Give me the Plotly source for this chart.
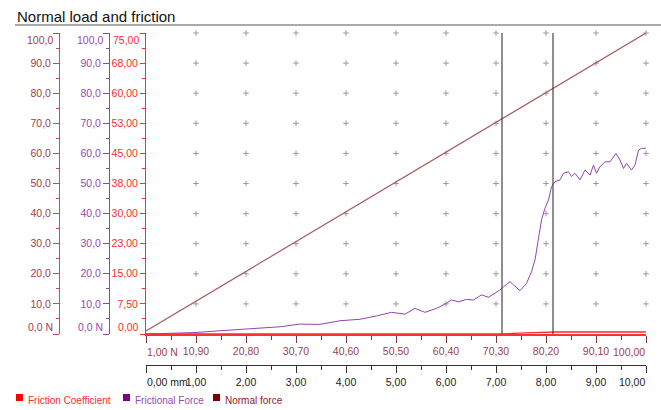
import plotly.graph_objects as go

# ---------------- data ----------------
# distance axis (mm) and normal-force axis tick labels
dist_ticks = [0, 1, 2, 3, 4, 5, 6, 7, 8, 9, 10]
dist_labels = ["0,00 mm", "1,00", "2,00", "3,00", "4,00", "5,00", "6,00", "7,00", "8,00", "9,00", "10,00"]
nf_labels = ["1,00 N", "10,90", "20,80", "30,70", "40,60", "50,50", "60,40", "70,30", "80,20", "90,10", "100,00"]

# left axes tick labels
force_ticks = [0, 10, 20, 30, 40, 50, 60, 70, 80, 90, 100]
force_labels = ["0,0 N", "10,0", "20,0", "30,0", "40,0", "50,0", "60,0", "70,0", "80,0", "90,0", "100,0"]
coef_ticks = [0, 7.5, 15, 22.5, 30, 37.5, 45, 52.5, 60, 67.5, 75]
coef_labels = ["0,00", "7,50", "15,00", "23,00", "30,00", "38,00", "45,00", "53,00", "60,00", "68,00", "75,00"]

# Normal force (N) vs distance (mm)
normal_x = [0.0, 10.0]
normal_y = [1.0, 100.0]

# Frictional force (N) vs distance (mm)
fric_x = [0.0, 0.3, 0.6, 1.0, 1.5, 2.0, 2.4, 2.68, 3.08, 3.48, 3.88, 4.28, 4.61, 4.91, 5.18,
          5.38, 5.58, 5.81, 6.01, 6.11, 6.25, 6.41, 6.55, 6.71, 6.85, 6.98, 7.07, 7.15, 7.28,
          7.35, 7.48, 7.61, 7.71, 7.78, 7.85, 7.91, 7.98, 8.05, 8.11, 8.18, 8.28, 8.35, 8.45,
          8.51, 8.58, 8.68, 8.78, 8.88, 8.95, 9.01, 9.08, 9.18, 9.28, 9.40, 9.48, 9.55, 9.61,
          9.71, 9.78, 9.85, 9.91, 10.0]
fric_y = [0.0, 0.1, 0.3, 0.5, 1.1, 1.7, 2.2, 2.4, 3.3, 3.2, 4.4, 4.9, 6.0, 7.2, 6.6,
          8.5, 7.2, 8.5, 10.2, 11.3, 10.7, 11.5, 11.3, 13.0, 12.2, 13.5, 14.5, 15.7, 17.4,
          16.3, 14.4, 16.8, 20.7, 24.6, 31.2, 37.9, 41.8, 44.5, 48.9, 50.6, 51.2, 53.4, 53.9,
          52.3, 53.4, 51.2, 54.5, 52.8, 56.1, 53.4, 55.6, 57.2, 57.2, 60.0, 57.8, 55.0, 56.7,
          54.5, 56.1, 61.1, 61.7, 61.7]

# Friction coefficient vs distance (mm)
coef_x = [0.0, 7.1, 7.6, 8.2, 10.0]
coef_y = [0.0, 0.0, 0.3, 0.5, 0.5]

# cursor markers (mm)
cursors = [7.12, 8.14]

# ---------------- styling ----------------
W, H = 661, 410
FONT = "Liberation Sans, Arial, sans-serif"
C_NORMAL_LINE = "#a85c62"
C_NORMAL_TXT = "#a0404c"
C_NORMAL_AX = "#d04848"
C_FRIC = "#9444ac"
C_FRIC_TXT = "#9a48b4"
C_COEF = "#ff2a2a"
FS = 10.5

px_l, px_r, px_t, px_b = 146, 646, 33, 334
dom_x = [px_l / W, px_r / W]
dom_y = [1 - px_b / H, 1 - px_t / H]

# end labels are drawn as annotations (aligned inward like the original)
def inner(labels):
    return [""] + list(labels[1:-1]) + [""]

fig = go.Figure()

# grid "+" markers
gx, gy = [], []
for xv in dist_ticks[1:]:
    for yv in force_ticks[1:]:
        gx.append(xv)
        gy.append(yv)
fig.add_trace(go.Scatter(x=gx, y=gy, mode="markers", xaxis="x", yaxis="y",
                         marker=dict(symbol="cross-thin", size=4, line=dict(color="#9a9a9a", width=1)),
                         hoverinfo="skip", showlegend=False, cliponaxis=False))

fig.add_trace(go.Scatter(x=normal_x, y=normal_y, mode="lines", xaxis="x", yaxis="y",
                         line=dict(color=C_NORMAL_LINE, width=1.2), name="Normal force", showlegend=False))
fig.add_trace(go.Scatter(x=fric_x, y=fric_y, mode="lines", xaxis="x2", yaxis="y2",
                         line=dict(color=C_FRIC, width=1.0), name="Frictional Force", showlegend=False))
fig.add_trace(go.Scatter(x=coef_x, y=coef_y, mode="lines", xaxis="x2", yaxis="y3",
                         line=dict(color=C_COEF, width=1.3), name="Friction Coefficient", showlegend=False))

shapes = []
for c in cursors:
    shapes.append(dict(type="line", xref="x", yref="y", x0=c, x1=c, y0=0, y1=100,
                       line=dict(color="#333333", width=1.1)))
# title underline
shapes.append(dict(type="line", xref="paper", yref="paper", x0=15 / W, x1=1, y0=1 - 25 / H, y1=1 - 25 / H,
                   line=dict(color="#555555", width=1)))

annotations = [dict(text="Normal load and friction", x=15 / W, y=1 - 16 / H, xref="paper", yref="paper",
                    xanchor="left", yanchor="middle", showarrow=False,
                    font=dict(family=FONT, size=15, color="#111111"))]

def ann(text, x, y, xref, yref, xa, ya, color):
    annotations.append(dict(text=text, x=x, y=y, xref=xref, yref=yref, xanchor=xa, yanchor=ya,
                            showarrow=False, borderpad=0, font=dict(family=FONT, size=FS, color=color)))

# x-axis end labels
ann(nf_labels[0], dist_ticks[0], 1 - 351.5 / H, "x", "paper", "left", "middle", C_NORMAL_TXT)
ann(nf_labels[-1], dist_ticks[-1], 1 - 351.5 / H, "x", "paper", "right", "middle", C_NORMAL_TXT)
ann(dist_labels[0], dist_ticks[0], 1 - 381.5 / H, "x", "paper", "left", "middle", "#222222")
ann(dist_labels[-1], dist_ticks[-1], 1 - 381.5 / H, "x", "paper", "right", "middle", "#222222")
# y-axis end labels
for xr, labs, ticks, yref, col in [(53.5, force_labels, force_ticks, "y", C_NORMAL_TXT),
                                    (103.5, force_labels, force_ticks, "y2", C_FRIC_TXT),
                                    (139.5, coef_labels, coef_ticks, "y3", C_COEF)]:
    ann(labs[-1], xr / W, ticks[-1], "paper", yref, "right", "top", col)
    ann(labs[0], xr / W, ticks[0], "paper", yref, "right", "bottom", col)

# manual legend
legend_items = [("Friction Coefficient", "#ff0000", "#ff2a2a", 16),
                ("Frictional Force", "#800080", "#9a48b4", 123),
                ("Normal force", "#800000", "#8b2030", 213)]
for name, sq, tc, x0 in legend_items:
    shapes.append(dict(type="rect", xref="paper", yref="paper",
                       x0=x0 / W, x1=(x0 + 7) / W, y0=1 - 401 / H, y1=1 - 394 / H,
                       fillcolor=sq, line=dict(width=0)))
    annotations.append(dict(text=name, x=(x0 + 10) / W, y=1 - 400 / H, xref="paper", yref="paper",
                            xanchor="left", yanchor="middle", showarrow=False,
                            font=dict(family=FONT, size=10, color=tc)))

common = dict(showgrid=False, zeroline=False, showline=True, automargin=False, fixedrange=True,
              tickmode="array", ticks="outside", tickangle=0)

fig.update_layout(
    width=W, height=H,
    margin=dict(l=0, r=0, t=0, b=0, autoexpand=False),
    paper_bgcolor="white", plot_bgcolor="white",
    font=dict(family=FONT, size=10),
    showlegend=False,
    shapes=shapes,
    annotations=annotations,
    xaxis=dict(domain=dom_x, range=[0, 10], anchor="y",
               linecolor="#ff3030", linewidth=1.5,
               ticklen=7, tickcolor="#7a3a3a", tickwidth=1,
               tickvals=dist_ticks, ticktext=inner(nf_labels),
               tickfont=dict(color=C_NORMAL_TXT, size=FS),
               minor=dict(tickvals=[v + 0.5 for v in dist_ticks[:-1]], ticklen=4, tickcolor="#7a3a3a", ticks="outside"),
               **common),
    xaxis2=dict(overlaying="x", range=[0, 10], anchor="free", position=1 - 365 / H,
                linecolor="#333333", linewidth=1,
                ticklen=7, tickcolor="#333333",
                tickvals=dist_ticks, ticktext=inner(dist_labels),
                tickfont=dict(color="#222222", size=FS),
                minor=dict(tickvals=[v + 0.5 for v in dist_ticks[:-1]], ticklen=4, tickcolor="#333333", ticks="outside"),
                **common),
    yaxis=dict(domain=dom_y, range=[0, 100], anchor="free", position=59 / W, side="left",
               linecolor=C_NORMAL_AX, linewidth=1,
               ticklen=6, tickcolor=C_NORMAL_AX,
               tickvals=force_ticks, ticktext=inner(force_labels),
               tickfont=dict(color=C_NORMAL_TXT, size=FS),
               minor=dict(tickvals=[v + 5 for v in force_ticks[:-1]], ticklen=3, tickcolor=C_NORMAL_AX, ticks="outside"),
               **common),
    yaxis2=dict(overlaying="y", range=[0, 100], anchor="free", position=109 / W, side="left",
                linecolor=C_FRIC, linewidth=1,
                ticklen=6, tickcolor=C_FRIC,
                tickvals=force_ticks, ticktext=inner(force_labels),
                tickfont=dict(color=C_FRIC_TXT, size=FS),
                minor=dict(tickvals=[v + 5 for v in force_ticks[:-1]], ticklen=3, tickcolor=C_FRIC, ticks="outside"),
                **common),
    yaxis3=dict(overlaying="y", range=[0, 75], anchor="x", side="left",
                linecolor=C_COEF, linewidth=1,
                ticklen=5, tickcolor=C_COEF,
                tickvals=coef_ticks, ticktext=inner(coef_labels),
                tickfont=dict(color=C_COEF, size=FS),
                minor=dict(tickvals=[v + 3.75 for v in coef_ticks[:-1]], ticklen=3, tickcolor=C_COEF, ticks="outside"),
                **common),
)

fig.write_html("out.html", config={"displayModeBar": False},
               post_script="document.body.style.margin='0';document.body.style.overflow='hidden';")
